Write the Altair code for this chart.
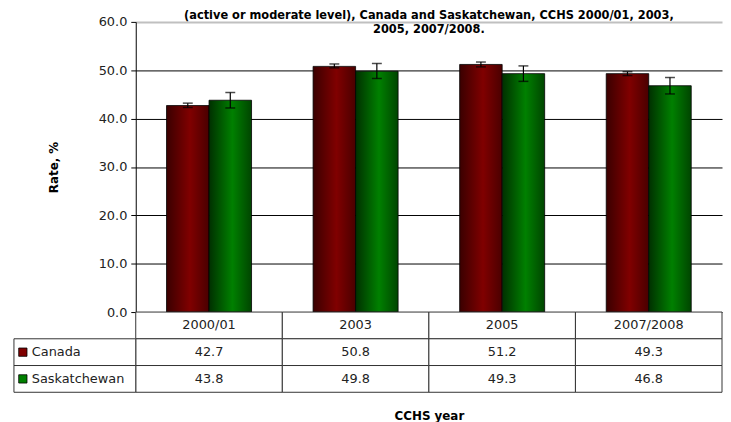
import pandas as pd
import altair as alt

cats = ["2000/01", "2003", "2005", "2007/2008"]
series = ["Canada", "Saskatchewan"]
canada = [42.7, 50.8, 51.2, 49.3]
sask = [43.8, 49.8, 49.3, 46.8]
# 95% confidence limits
canada_lo = [42.3, 50.5, 50.7, 48.9]
canada_hi = [43.2, 51.3, 51.7, 49.7]
sask_lo = [42.2, 48.3, 47.7, 45.1]
sask_hi = [45.4, 51.4, 50.9, 48.5]
y_ticks = [0, 10, 20, 30, 40, 50, 60]
title_lines = [
    "(active or moderate level), Canada and Saskatchewan, CCHS 2000/01, 2003,",
    "2005, 2007/2008.",
]

FONT = "DejaVu Sans"
W = 592
H = 293
ROW_H = 27
RED = "#800000"
GREEN = "#008000"

rows = []
for i, c in enumerate(cats):
    rows.append({"cat": c, "series": "Canada", "value": canada[i], "lo": canada_lo[i], "hi": canada_hi[i]})
    rows.append({"cat": c, "series": "Saskatchewan", "value": sask[i], "lo": sask_lo[i], "hi": sask_hi[i]})
df = pd.DataFrame(rows)

x_bars = alt.X("cat:N", scale=alt.Scale(domain=cats, paddingInner=0.42, paddingOuter=0.21), axis=None)
x_off = alt.XOffset("series:N", scale=alt.Scale(domain=series, paddingInner=0, paddingOuter=0))

grad = lambda dark, mid, edge: alt.LinearGradient(
    gradient="linear", x1=0, x2=1, y1=0, y2=0,
    stops=[alt.GradientStop(color=dark, offset=0),
           alt.GradientStop(color=mid, offset=0.55),
           alt.GradientStop(color=edge, offset=1)])

y_enc = alt.Y(
    "value:Q",
    scale=alt.Scale(domain=[0, 60], nice=False),
    axis=alt.Axis(
        values=y_ticks, format=".1f", title="Rate, %",
        grid=True,
        gridColor=alt.condition("datum.value == 60", alt.value("#c0c0c0"), alt.value("black")),
        gridWidth=alt.condition("datum.value == 60", alt.value(2), alt.value(1)),
        domainColor="black", tickColor="black", tickSize=5, labelPadding=4,
        labelFont=FONT, labelFontSize=13, labelColor="#222",
        titleFont=FONT, titleFontSize=12, titleFontWeight="bold", titleColor="black",
        titlePadding=38,
    ),
)

base = alt.Chart(df)

bars_ca = base.transform_filter(alt.datum.series == "Canada").mark_bar(
    color=grad("#3a0000", RED, "#4a0000"), stroke="black", strokeWidth=0.8
).encode(x=x_bars, xOffset=x_off, y=y_enc)

bars_sk = base.transform_filter(alt.datum.series == "Saskatchewan").mark_bar(
    color=grad("#003000", GREEN, "#004500"), stroke="black", strokeWidth=0.8
).encode(x=x_bars, xOffset=x_off, y="value:Q")

err = base.mark_rule(color="black", strokeWidth=1.2).encode(
    x=x_bars, xOffset=x_off, y="lo:Q", y2="hi:Q"
)
caps = base.transform_fold(["lo", "hi"], as_=["end", "lim"]).mark_tick(
    orient="horizontal", size=10, thickness=1.5, color="black"
).encode(x=x_bars, xOffset=x_off, y="lim:Q")

# two visible title lines; the first sits above the plot, the second just inside it
title_style = dict(font=FONT, fontSize=11.5, fontWeight="bold", color="black", align="center")
t1 = alt.Chart(pd.DataFrame({"t": [title_lines[0]]})).mark_text(baseline="alphabetic", **title_style).encode(
    x=alt.value(W / 2), y=alt.value(-3), text="t:N"
)
t2 = alt.Chart(pd.DataFrame({"t": [title_lines[1]]})).mark_text(baseline="alphabetic", **title_style).encode(
    x=alt.value(W / 2), y=alt.value(11), text="t:N"
)

top = alt.layer(bars_ca, bars_sk, err, caps, t1, t2).properties(width=W, height=H)

# data table under the plot
row_keys = ["head", "Canada", "Saskatchewan"]
cells = []
for i, c in enumerate(cats):
    cells.append({"cat": c, "row": "head", "text": c})
    cells.append({"cat": c, "row": "Canada", "text": f"{canada[i]:.1f}"})
    cells.append({"cat": c, "row": "Saskatchewan", "text": f"{sask[i]:.1f}"})
cells = pd.DataFrame(cells)
labels = pd.DataFrame({"row": series, "series": series})

x_tab = alt.X(
    "cat:N", scale=alt.Scale(domain=cats, paddingInner=0, paddingOuter=0),
    axis=alt.Axis(labels=False, ticks=False, domain=False, title="CCHS year",
                  titleFont=FONT, titleFontSize=12, titleFontWeight="bold",
                  titleColor="black", titlePadding=18),
)
y_tab = alt.Y("row:N", scale=alt.Scale(domain=row_keys, paddingInner=0, paddingOuter=0), axis=None)

grid = alt.Chart(cells).mark_rect(fill="white", stroke="#333", strokeWidth=1).encode(x=x_tab, y=y_tab)
txt = alt.Chart(cells).mark_text(font=FONT, fontSize=13, color="#222").encode(x=x_tab, y=y_tab, text="text:N")
lab_box = alt.Chart(labels).mark_rect(fill="white", stroke="#333", strokeWidth=1).encode(
    x=alt.value(-123), x2=alt.value(0), y=y_tab
)
lab_txt = alt.Chart(labels).mark_text(font=FONT, fontSize=13, color="#222", align="left").encode(
    x=alt.value(-105), y=y_tab, text="row:N"
)
keys = alt.Chart(labels).mark_point(shape="square", filled=True, size=70, stroke="black",
                                    strokeWidth=0.8, opacity=1).encode(
    x=alt.value(-114), y=y_tab,
    color=alt.Color("series:N", scale=alt.Scale(domain=series, range=[RED, GREEN]), legend=None),
)

table = alt.layer(grid, txt, lab_box, lab_txt, keys).properties(width=W, height=ROW_H * 3)

chart = alt.vconcat(top, table, spacing=0, bounds="flush").resolve_scale(
    x="independent", y="independent", color="independent"
).properties(
    padding={"left": 5, "top": 0, "right": 0, "bottom": 0}
).configure_view(stroke=None)

chart.save("out.html", embed_options={"renderer": "svg", "actions": False})
